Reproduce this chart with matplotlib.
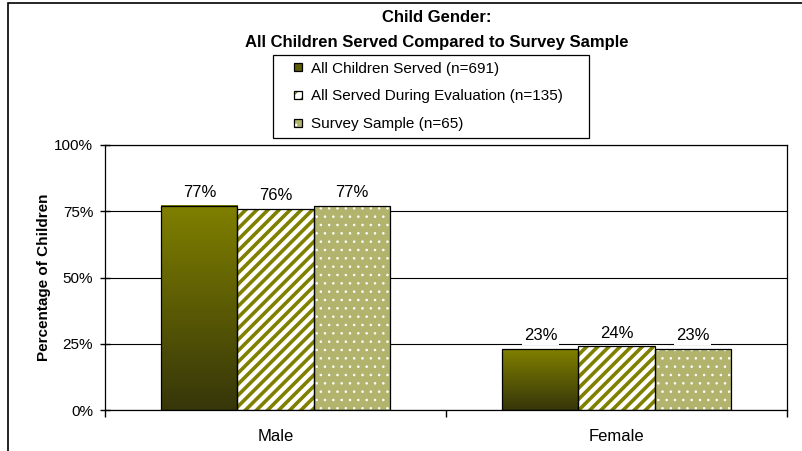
import matplotlib.pyplot as plt
import numpy as np
from matplotlib.patches import Rectangle
from matplotlib.legend_handler import HandlerPatch
from matplotlib.colors import LinearSegmentedColormap

plt.rcParams['font.family'] = ['Liberation Sans', 'DejaVu Sans']

genders = ['Male', 'Female']
served_all = [77, 23]
served_eval = [76, 24]
survey_sample = [77, 23]
series_names = ['All Children Served (n=691)',
                'All Served During Evaluation (n=135)',
                'Survey Sample (n=65)']

olive = '#808000'
dark_olive = '#36360a'
stipple = '#b2b46e'

fig = plt.figure(figsize=(8.03, 4.51), dpi=100)
ax = fig.add_axes([105/803, 41/451, 682/803, 265/451])

x = np.arange(len(genders))
w = 0.223

# series 1: vertical olive gradient
b1 = ax.bar(x - w, served_all, w, facecolor='#5c5c06', linewidth=0)
grad = LinearSegmentedColormap.from_list('olv', [dark_olive, olive])
ramp = np.linspace(0, 1, 256).reshape(-1, 1)
for p in b1:
    x0, y0 = p.get_x(), p.get_y()
    ax.imshow(ramp, cmap=grad, origin='lower', aspect='auto', zorder=1.05,
              extent=(x0, x0 + p.get_width(), y0, y0 + p.get_height()))

# series 2: diagonal stripes
with plt.rc_context({'hatch.linewidth': 2.6}):
    b2 = ax.bar(x, served_eval, w, facecolor='white', edgecolor=olive,
                hatch='///', linewidth=0)

# series 3: stippled fill
with plt.rc_context({'hatch.linewidth': 0.6}):
    b3 = ax.bar(x + w, survey_sample, w, facecolor=stipple, edgecolor='white',
                hatch='..', linewidth=0)

outlines = []
for off, vals in zip([-w, 0, w], [served_all, served_eval, survey_sample]):
    o = ax.bar(x + off, vals, w, fill=False, edgecolor='black', linewidth=0.9,
               zorder=1.2)
    outlines.append(o)
    ax.bar_label(o, labels=[f'{v}%' for v in vals], padding=4, fontsize=12,
                 bbox=dict(facecolor='white', edgecolor='none', pad=1.5))

ax.set_xlim(-0.5, 1.5)
ax.set_ylim(0, 100)
ax.set_yticks([0, 25, 50, 75, 100])
ax.set_yticklabels(['0%', '25%', '50%', '75%', '100%'])
ax.set_xticks(x)
ax.set_xticklabels(genders)
ax.set_xticks([-0.5, 0.5, 1.5], minor=True)
ax.tick_params(axis='x', which='major', length=0, labelsize=12, pad=14)
ax.tick_params(axis='x', which='minor', length=5, width=1, direction='out')
ax.tick_params(axis='y', direction='inout', length=7, width=1, labelsize=11, pad=5)
ax.set_axisbelow(True)
ax.grid(True, axis='y', color='black', linewidth=0.8)
for s in ax.spines.values():
    s.set_linewidth(0.9)

ax.set_ylabel('Percentage of Children', fontsize=11, fontweight='bold', labelpad=2)

title_x = 437 / 803
fig.text(title_x, 1 - 17/451, 'Child Gender:', ha='center', va='center',
         fontsize=12, fontweight='bold')
fig.text(title_x, 1 - 42/451, 'All Children Served Compared to Survey Sample',
         ha='center', va='center', fontsize=12, fontweight='bold')


def small_square(legend, orig_handle, xdescent, ydescent, width, height, fontsize):
    s = 0.53 * fontsize
    return Rectangle((-xdescent + width - s, -ydescent + (height - s) / 2), s, s)


handles = [(b1[0], outlines[0][0]), (b2[0], outlines[1][0]), (b3[0], outlines[2][0])]
leg = fig.legend(handles, series_names, loc='upper left', mode='expand',
                 bbox_to_anchor=(273/803, 1 - 137/451, 316/803, 82/451), borderaxespad=0,
                 fontsize=11, frameon=True, fancybox=False, edgecolor='black',
                 framealpha=1, borderpad=0.42, labelspacing=0.9,
                 handlelength=1.46, handleheight=0.8, handletextpad=0.6,
                 handler_map={Rectangle: HandlerPatch(patch_func=small_square)})
leg.get_frame().set_linewidth(0.9)

# outer chart border
fig.patches.append(Rectangle((8/803, -0.1), 1.0, 1.1 - 3/451, transform=fig.transFigure,
                             fill=False, edgecolor='black', linewidth=1.2))

fig.savefig('out.png', dpi=100)
